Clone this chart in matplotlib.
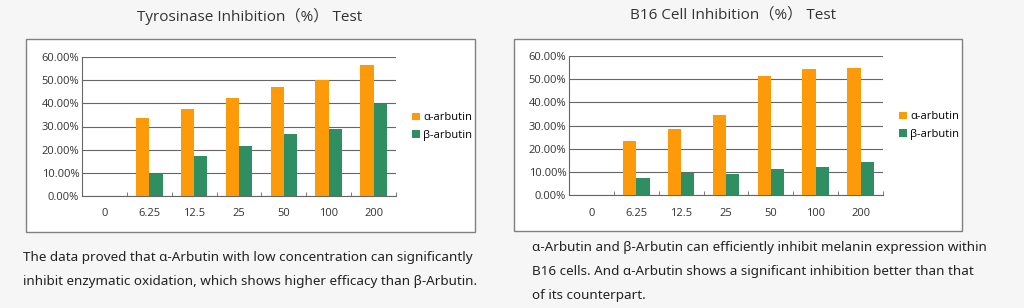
import numpy as np
import matplotlib.pyplot as plt
from matplotlib.patches import Rectangle

# data
doses = ['0', '6.25', '12.5', '25', '50', '100', '200']
tyr_alpha = [0, 33.7, 37.4, 42.1, 47.0, 49.9, 56.7]
tyr_beta = [0, 9.7, 17.2, 21.5, 26.6, 29.1, 39.5]
b16_alpha = [0, 23.1, 28.6, 34.7, 51.3, 54.6, 54.9]
b16_beta = [0, 7.4, 9.4, 9.1, 11.3, 12.1, 14.3]
y_ticks = [0, 10, 20, 30, 40, 50, 60]

ORANGE = '#fc9a0a'
GREEN = '#2f8f62'
TXT = '#333333'
LINE = '#666666'
W, H = 1024, 308

title_font = ['Open Sans', 'Noto Sans CJK SC', 'DejaVu Sans']
tick_font = ['Open Sans', 'DejaVu Sans']
body_font = ['Noto Sans', 'DejaVu Sans']

fig = plt.figure(figsize=(W / 100, H / 100), dpi=100)
fig.patch.set_facecolor('#f6f6f6')


def px_axes(x0, y0, x1, y1):
    # pixel box (top-left origin) -> figure fraction axes
    ax = fig.add_axes([x0 / W, 1 - y1 / H, (x1 - x0) / W, (y1 - y0) / H])
    ax.set_zorder(2)
    ax.patch.set_alpha(0)
    return ax


def white_box(x0, y0, x1, y1):
    fig.patches.append(Rectangle((x0 / W, 1 - y1 / H), (x1 - x0) / W, (y1 - y0) / H,
                                 transform=fig.transFigure, facecolor='white',
                                 edgecolor='#808080', linewidth=1.0, zorder=-1))


def draw_chart(ax, alpha, beta):
    x = np.arange(len(doses))
    bw = 0.295
    ax.bar(x - bw / 2, alpha, bw, color=ORANGE, label='α-arbutin', zorder=3)
    ax.bar(x + bw / 2, beta, bw, color=GREEN, label='β-arbutin', zorder=3)
    ax.set_xlim(-0.5, len(doses) - 0.5)
    ax.set_ylim(0, 60)
    ax.set_yticks(y_ticks)
    ax.set_yticklabels(['%.2f%%' % v for v in y_ticks], fontsize=8, color=TXT,
                       family=tick_font)
    ax.set_xticks(x)
    ax.set_xticklabels(doses, fontsize=8, color=TXT, family=tick_font)
    ax.set_xticks(np.arange(-0.5, len(doses)), minor=True)
    ax.tick_params(axis='x', which='major', length=0, pad=9)
    ax.tick_params(axis='x', which='minor', direction='in', length=3, color=LINE)
    ax.tick_params(axis='y', length=0, pad=2)
    ax.grid(axis='y', color=LINE, linewidth=0.8, zorder=1)
    ax.set_axisbelow(True)
    for s in ['top', 'right']:
        ax.spines[s].set_visible(False)
    for s in ['left', 'bottom']:
        ax.spines[s].set_color(LINE)
        ax.spines[s].set_linewidth(0.8)
    ax.legend(loc='center left', bbox_to_anchor=(1.02, 0.5), frameon=False,
              handlelength=0.7, handleheight=0.7, handletextpad=0.3,
              labelspacing=0.55, prop={'family': tick_font, 'size': 8})


# left chart
white_box(26, 39, 475, 232)
ax1 = px_axes(82, 57, 396, 196)
draw_chart(ax1, tyr_alpha, tyr_beta)
fig.text(250 / W, 1 - 16 / H, 'Tyrosinase Inhibition（%） Test', ha='center', va='center',
         fontsize=11, color=TXT, family=title_font)

# right chart
white_box(514, 39, 962, 231)
ax2 = px_axes(569, 56, 883, 195)
draw_chart(ax2, b16_alpha, b16_beta)
fig.text(733 / W, 1 - 15 / H, 'B16 Cell Inhibition（%） Test', ha='center', va='center',
         fontsize=11, color=TXT, family=title_font)

# captions
cap = dict(ha='left', va='center', fontsize=9.7, color='#222222', family=body_font)
fig.text(23 / W, 1 - 258 / H,
         'The data proved that α-Arbutin with low concentration can significantly', **cap)
fig.text(23 / W, 1 - 281 / H,
         'inhibit enzymatic oxidation, which shows higher efficacy than β-Arbutin.', **cap)
fig.text(532 / W, 1 - 248 / H,
         'α-Arbutin and β-Arbutin can efficiently inhibit melanin expression within', **cap)
fig.text(532 / W, 1 - 272 / H,
         'B16 cells. And α-Arbutin shows a significant inhibition better than that', **cap)
fig.text(532 / W, 1 - 296 / H, 'of its counterpart.', **cap)

plt.savefig('out.png', dpi=100, facecolor=fig.get_facecolor())
